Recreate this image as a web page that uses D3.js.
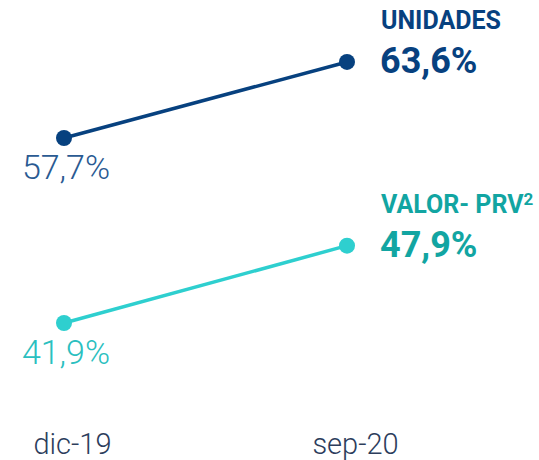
<html lang="es">
<head>
<meta charset="utf-8">
<title>Unidades y valor PRV</title>
<style>
  body { margin: 0; background: white; }
  svg { display: block; font-family: Roboto, "Open Sans", sans-serif; }
  .axis path, .axis line { display: none; }
  .axis text { font-family: Roboto, sans-serif; font-size: 29px; font-weight: 300; fill: #2c3d5c; }
</style>
</head>
<body>
<script src="https://cdnjs.cloudflare.com/ajax/libs/d3/7.8.5/d3.min.js"></script>
<script>
// datos
var categories = ["dic-19", "sep-20"];
var unidades = [57.7, 63.6];
var valorPrv = [41.9, 47.9];
var seriesNames = ["UNIDADES", "VALOR- PRV"];

var fullWidth = 539, fullHeight = 460;

var svg = d3.select("body").append("svg")
  .attr("width", fullWidth)
  .attr("height", fullHeight);

var xScale = d3.scalePoint().domain(categories).range([64, 347]);

// each series sits in its own band, same px per point
var panels = [
  { name: seriesNames[0], sup: "", values: unidades, domain: [55, 65], range: [172.8, 43.9],
    line: "#07417f", startText: "#2a5a92", endText: "#07417f" },
  { name: seriesNames[1], sup: "2", values: valorPrv, domain: [40, 50], range: [347.5, 218.6],
    line: "#2ecfcf", startText: "#2bbfbf", endText: "#12a5a2" }
];

panels.forEach(function(p) {
  var yScale = d3.scaleLinear().domain(p.domain).range(p.range);
  var pts = p.values.map(function(v, i) { return { cat: categories[i], v: v }; });

  var line = d3.line()
    .x(function(d) { return xScale(d.cat); })
    .y(function(d) { return yScale(d.v); });

  var g = svg.append("g");

  g.append("path")
    .datum(pts)
    .attr("d", line)
    .attr("fill", "none")
    .attr("stroke", p.line)
    .attr("stroke-width", 3.5);

  g.selectAll("circle").data(pts).enter()
    .append("circle")
    .attr("cx", function(d) { return xScale(d.cat); })
    .attr("cy", function(d) { return yScale(d.v); })
    .attr("r", 8)
    .attr("fill", p.line);

  var fmt = function(v) { return v.toFixed(1).replace(".", ",") + "%"; };
  var first = pts[0], last = pts[pts.length - 1];

  // start value, under the dot
  g.append("text")
    .attr("x", xScale(first.cat) + 2)
    .attr("y", yScale(first.v) + 41)
    .attr("text-anchor", "middle")
    .attr("font-size", 34)
    .attr("font-weight", 300)
    .attr("fill", p.startText)
    .text(fmt(first.v));

  // series name + end value
  var nm = g.append("text")
    .attr("x", 381)
    .attr("y", yScale(last.v) - 33)
    .attr("font-size", 25)
    .attr("font-weight", 700)
    .attr("fill", p.endText)
    .text(p.name);
  if (p.sup) {
    nm.append("tspan").attr("dy", -8).attr("font-size", 17).text(p.sup);
  }

  g.append("text")
    .attr("x", 380)
    .attr("y", yScale(last.v) + 11)
    .attr("font-size", 36)
    .attr("font-weight", 700)
    .attr("fill", p.endText)
    .text(fmt(last.v));
});

var xAxis = d3.axisBottom(xScale).tickSize(0).tickPadding(0);
svg.append("g")
  .attr("class", "axis")
  .attr("transform", "translate(8,433)")
  .call(xAxis)
  .selectAll("text")
  .attr("dy", "0.71em");
</script>
</body>
</html>
